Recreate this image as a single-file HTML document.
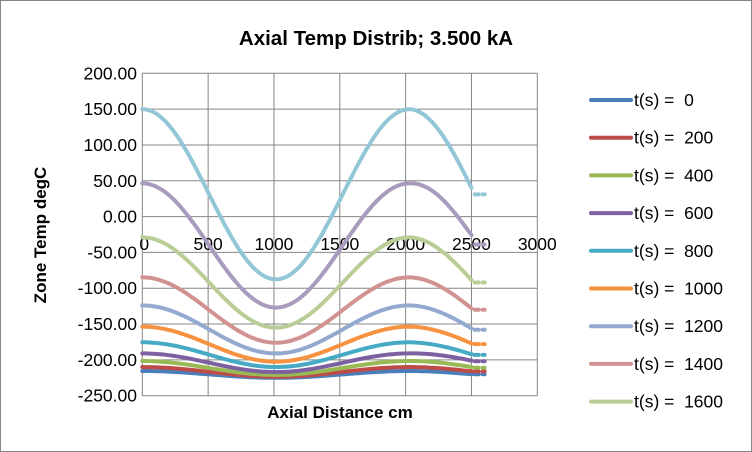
<!DOCTYPE html>
<html><head><meta charset="utf-8"><style>
html,body{margin:0;padding:0;background:#fff}
svg{display:block;font-family:"Liberation Sans",Arial,sans-serif}
</style></head><body>
<svg id="s" width="752" height="452" viewBox="0 0 752 452" xmlns="http://www.w3.org/2000/svg">
<rect x="0.5" y="0.5" width="751" height="451" fill="#fff" stroke="#868686"/>
<text x="376" y="45" text-anchor="middle" font-size="20.5" font-weight="bold">Axial Temp Distrib; 3.500 kA</text>
<g id="grid" stroke="#868686" stroke-width="1"></g>
<g id="yl" font-size="17.5" text-anchor="end"></g>
<g id="xl" font-size="17.5" text-anchor="middle"></g>
<g id="series" fill="none" stroke-width="4" stroke-linecap="round"></g>
<text x="340" y="418" text-anchor="middle" font-size="17" font-weight="bold">Axial Distance cm</text>
<text transform="translate(46,235) rotate(-90)" text-anchor="middle" font-size="17" font-weight="bold">Zone Temp degC</text>
<g id="leg" font-size="17.5"></g>
</svg>
<script>
var NS="http://www.w3.org/2000/svg";
function el(p,t,a,txt){var e=document.createElementNS(NS,t);for(var k in a)e.setAttribute(k,a[k]);if(txt!=null)e.textContent=txt;document.getElementById(p).appendChild(e);return e;}
var L=142.3,R=537.3,T=73.3,B=395.7;
function X(v){return L+(R-L)*v/3000}
function Y(v){return T+(B-T)*(200-v)/450}
for(var i=0;i<=6;i++){var x=X(i*500);el("grid","line",{x1:x,x2:x,y1:T,y2:B});el("xl","text",{x:x+(i==0?2:0),y:250},String(i*500));}
for(var j=0;j<=9;j++){var v=200-50*j,y=Y(v);el("grid","line",{x1:L,x2:R,y1:y,y2:y});el("yl","text",{x:137,y:y+6},v.toFixed(2));}
var S=[
["#4A7EBB",-215.5,-225,-220,-220],
["#BE4B48",-210,-223.5,-216,-216],
["#98B954",-201.6,-221,-210,-211],
["#7D60A0",-191,-217,-201,-202],
["#46AAC5",-175.5,-210,-192,-193],
["#F69240",-153.6,-202.5,-177,-178],
["#93A9CF",-124,-191,-156,-158],
["#D19392",-84.8,-176,-128,-130],
["#B9CD96",-29,-155,-88.5,-92],
["#A99BBD",46.4,-127,-26,-39],
["#93C6D6",150,-87.6,40,31]];
var P=2030;
S.forEach(function(s){
 var c=(s[1]+s[2])/2,a=(s[1]-s[2])/2;
 var e0=c+a*Math.cos(2*Math.PI*2500/P),corr=s[3]-e0;
 var d="";
 for(var x=0;x<=2500;x+=20){var v=c+a*Math.cos(2*Math.PI*x/P)+corr*Math.max(0,(x-2030)/470);d+=(x?"L":"M")+X(x).toFixed(1)+" "+Y(v).toFixed(1);}
 el("series","path",{d:d,stroke:s[0]});
 el("series","line",{x1:X(2525),x2:X(2600),y1:Y(s[4]),y2:Y(s[4]),stroke:s[0],"stroke-dasharray":"4 4"});
});
var names=["0","200","400","600","800","1000","1200","1400","1600"];
for(var k=0;k<9;k++){var y=100+k*37.7;el("leg","line",{x1:591,x2:631,y1:y,y2:y,stroke:S[k][0],"stroke-width":4,"stroke-linecap":"round"});el("leg","text",{x:634,y:y+6},"t(s) =\u00a0\u00a0"+names[k]);}
</script>
</body></html>
